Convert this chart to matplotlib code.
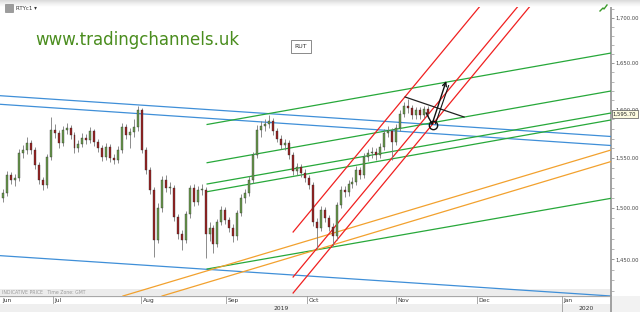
import numpy as np
import matplotlib
matplotlib.use('Agg')
import matplotlib.pyplot as plt
import matplotlib.transforms as mtransforms
from matplotlib.patches import Rectangle
from matplotlib.lines import Line2D
from matplotlib.ticker import FixedLocator, FuncFormatter, NullFormatter

# daily bars (index = trading day)
closes = [1515, 1533, 1528, 1530, 1555, 1558, 1565, 1558, 1543, 1528,
          1523, 1551, 1579, 1576, 1565, 1579, 1581, 1574, 1560, 1564,
          1571, 1568, 1578, 1566, 1560, 1551, 1561, 1550, 1548, 1558,
          1582, 1574, 1577, 1582, 1600, 1558, 1538, 1518, 1469, 1500,
          1528, 1520, 1520, 1491, 1474, 1469, 1494, 1520, 1506, 1518,
          1518, 1474, 1480, 1465, 1486, 1498, 1488, 1480, 1472, 1495,
          1510, 1515, 1528, 1553, 1579, 1583, 1585, 1588, 1578, 1570,
          1563, 1565, 1553, 1537, 1541, 1535, 1530, 1523, 1486, 1480,
          1498, 1490, 1481, 1472, 1503, 1518, 1516, 1524, 1526, 1538,
          1533, 1551, 1555, 1556, 1553, 1561, 1576, 1578, 1566, 1581,
          1596, 1604, 1602, 1594, 1600, 1594, 1601, 1595.7]
highs = [1519, 1537, 1536, 1534, 1559, 1563, 1572, 1568, 1561, 1546,
         1531, 1554, 1592, 1585, 1579, 1583, 1586, 1584, 1577, 1568,
         1576, 1575, 1582, 1580, 1570, 1563, 1565, 1564, 1554, 1562,
         1586, 1585, 1581, 1590, 1604, 1602, 1561, 1541, 1521, 1505,
         1532, 1533, 1526, 1523, 1494, 1478, 1497, 1523, 1524, 1522,
         1524, 1521, 1486, 1483, 1489, 1502, 1501, 1491, 1484, 1498,
         1514, 1519, 1532, 1556, 1584, 1588, 1590, 1594, 1591, 1581,
         1574, 1569, 1568, 1556, 1545, 1544, 1539, 1533, 1526, 1490,
         1502, 1501, 1493, 1485, 1506, 1522, 1522, 1528, 1531, 1542,
         1541, 1555, 1559, 1561, 1560, 1565, 1580, 1583, 1581, 1585,
         1600, 1608, 1611, 1605, 1603, 1603, 1604, 1604]
lows = [1506, 1512, 1524, 1522, 1527, 1550, 1554, 1554, 1539, 1524,
        1518, 1520, 1548, 1571, 1560, 1562, 1575, 1570, 1555, 1556,
        1561, 1564, 1565, 1562, 1556, 1547, 1548, 1546, 1544, 1545,
        1555, 1570, 1560, 1572, 1578, 1555, 1534, 1514, 1452, 1466,
        1496, 1516, 1514, 1487, 1470, 1459, 1466, 1490, 1502, 1503,
        1513, 1451, 1468, 1456, 1462, 1483, 1484, 1476, 1467, 1469,
        1492, 1505, 1512, 1525, 1550, 1572, 1578, 1581, 1574, 1566,
        1559, 1558, 1549, 1533, 1533, 1531, 1526, 1519, 1482, 1460,
        1477, 1486, 1477, 1463, 1469, 1500, 1511, 1512, 1520, 1523,
        1529, 1530, 1547, 1550, 1548, 1550, 1558, 1572, 1548, 1563,
        1578, 1592, 1597, 1590, 1590, 1590, 1591, 1591]
first_open = 1510
opens = [first_open] + closes[:-1]
last_price = 1595.70

month_labels = ['Jun', 'Jul', 'Aug', 'Sep', 'Oct', 'Nov', 'Dec', 'Jan']
month_pos = [-0.6, 12.6, 34.8, 56.2, 76.6, 99.0, 119.4, 140.8]
year_labels = ['2019', '2020']
price_ticks = [1450, 1500, 1550, 1600, 1650, 1700]

# trend lines: (x0, p0, x1, p1)
blue_lines = [(-0.76, 1614.9, 153.1, 1572.1),
              (-0.76, 1605.8, 153.1, 1562.8),
              (-0.76, 1453.5, 153.1, 1415.4)]
green_lines = [(51.4, 1584.6, 153.1, 1660.9),
               (51.4, 1545.2, 153.1, 1619.9),
               (51.4, 1523.7, 153.1, 1596.6),
               (51.4, 1516.0, 153.1, 1589.3),
               (51.4, 1440.8, 153.1, 1509.4)]
orange_lines = [(30.2, 1415.4, 153.1, 1558.2),
                (40.05, 1415.4, 153.1, 1546.4)]
red_lines = [(73.05, 1476.3, 121.4, 1719.9),
             (73.05, 1433.2, 131.0, 1719.9),
             (73.05, 1418.2, 134.0, 1719.9)]
triangle_line = (101.26, 1613.5, 116.1, 1592.4)
arrow_path_x = [106.55, 108.06]
arrow_path_p = [1596.6, 1585.1]
arrow_tip = (111.6, 1630.6)
circle_pt = (108.3, 1584.4)

W, H = 640, 312
fig = plt.figure(figsize=(6.4, 3.12), dpi=100)
fig.patch.set_facecolor('white')
ax = fig.add_axes([0, 16 / H, 611 / W, 296 / H])
ax.set_yscale('log')
ax.set_xlim(-0.76, 153.1)
ax.set_ylim(1415.4, 1719.9)

for col, group in [('#3f8fd8', blue_lines), ('#27a83a', green_lines),
                   ('#f2a12e', orange_lines), ('#f02020', red_lines)]:
    for x0, p0, x1, p1 in group:
        ax.plot([x0, x1], [p0, p1], color=col, lw=0.9, zorder=3)

# candles
xs = np.arange(len(closes))
o = np.array(opens, dtype=float)
c = np.array(closes, dtype=float)
ax.vlines(xs, lows, highs, color='#7a7a7a', lw=0.6, zorder=4)
up = c >= o
body_lo = np.minimum(o, c)
body_h = np.maximum(np.abs(c - o), 0.8)
ax.bar(xs[up], body_h[up], bottom=body_lo[up], width=0.5,
       color='#6a9a4c', edgecolor='#2a2a2a', linewidth=0.25, zorder=5)
ax.bar(xs[~up], body_h[~up], bottom=body_lo[~up], width=0.5,
       color='#9a2222', edgecolor='#2a2a2a', linewidth=0.25, zorder=5)

# hand drawn annotations
ax.plot([triangle_line[0], triangle_line[2]], [triangle_line[1], triangle_line[3]],
        color='#222222', lw=0.9, zorder=6)
ax.plot(arrow_path_x, arrow_path_p, color='#111111', lw=1.0, zorder=6)
ax.annotate('', xy=arrow_tip, xytext=(arrow_path_x[-1], arrow_path_p[-1]),
            arrowprops=dict(arrowstyle='->', lw=1.0, color='#111111',
                            shrinkA=0, shrinkB=0, mutation_scale=7), zorder=6)
ax.plot([circle_pt[0] + 0.6, arrow_tip[0] + 0.6], [circle_pt[1] + 1, arrow_tip[1] - 5],
        color='#111111', lw=0.8, zorder=6)
ax.plot(*circle_pt, marker='o', ms=6, mfc='none', mec='#111111', mew=1.0, zorder=6)

# bottom strip inside plot
ax.add_patch(Rectangle((0, 0), 1, 7 / 296, transform=ax.transAxes,
                       facecolor='#ececec', edgecolor='none', zorder=1))
ax.text(0.004, 3.5 / 296, 'INDICATIVE PRICE   Time Zone: GMT', transform=ax.transAxes,
        fontsize=3.3, color='#9a9a9a', va='center', ha='left', zorder=2)

# right price axis
for s in ['top', 'left', 'bottom']:
    ax.spines[s].set_visible(False)
ax.spines['right'].set_color('#9a9a9a')
ax.spines['right'].set_linewidth(1.3)
ax.yaxis.tick_right()
ax.yaxis.set_major_locator(FixedLocator(price_ticks))
ax.yaxis.set_minor_locator(FixedLocator(list(range(1420, 1720, 10))))
ax.yaxis.set_major_formatter(FuncFormatter(lambda v, p: f'{v:,.2f}'))
ax.yaxis.set_minor_formatter(NullFormatter())
ax.tick_params(axis='y', which='major', length=2.5, width=0.6, color='#888888',
               labelsize=3.8, pad=0.8, labelcolor='#444444')
ax.tick_params(axis='y', which='minor', length=1.8, width=0.5, color='#999999')
ax.set_xticks([])

blend = mtransforms.blended_transform_factory(ax.transAxes, ax.transData)
ax.text(1.003, last_price, f'{last_price:,.2f}', transform=blend, fontsize=3.8,
        va='center', ha='left', color='#222222', zorder=10, clip_on=False,
        bbox=dict(boxstyle='square,pad=0.25', fc='#fdfbe0', ec='#555555', lw=0.5))

# watermark and labels
ax.text(35 / 611, 1 - 40 / 296, 'www.tradingchannels.uk', transform=ax.transAxes,
        fontsize=12, color='#4a8d1e', va='center', ha='left')
ax.text(301 / 611, 1 - 46.5 / 296, 'RUT', transform=ax.transAxes, fontsize=4.5,
        color='#333333', va='center', ha='center',
        bbox=dict(boxstyle='square,pad=0.6', fc='white', ec='#777777', lw=0.6))

# month row
ax_m = fig.add_axes([0, 8 / H, 611 / W, 8 / H])
ax_m.set_xlim(-0.76, 153.1)
ax_m.set_ylim(0, 1)
ax_m.set_facecolor('white')
for s in ax_m.spines.values():
    s.set_visible(False)
ax_m.set_xticks([])
ax_m.set_yticks([])
ax_m.axhline(1, color='#a8a8a8', lw=1.6)
ax_m.axhline(0, color='#c8c8c8', lw=0.6)
for lab, pos in zip(month_labels, month_pos):
    if pos > 0:
        ax_m.axvline(pos, color='#9a9a9a', lw=0.6)
    ax_m.text(pos + 0.4, 0.45, lab, fontsize=4.3, color='#333333', va='center', ha='left')

# year row
ax_y = fig.add_axes([0, 0, 611 / W, 8 / H])
ax_y.set_xlim(-0.76, 153.1)
ax_y.set_ylim(0, 1)
ax_y.set_facecolor('#efefef')
for s in ax_y.spines.values():
    s.set_visible(False)
ax_y.set_xticks([])
ax_y.set_yticks([])
ax_y.axvline(month_pos[-1], color='#9a9a9a', lw=0.6)
ax_y.text((-0.76 + month_pos[-1]) / 2, 0.5, year_labels[0], fontsize=4.3,
          color='#333333', va='center', ha='center')
ax_y.text((month_pos[-1] + 153.1) / 2, 0.5, year_labels[1], fontsize=4.3,
          color='#333333', va='center', ha='center')

# right lower corner and axis line continuation
fig.add_artist(Rectangle((611 / W, 0), 29 / W, 16 / H, transform=fig.transFigure,
                         facecolor='#f2f2f2', edgecolor='none'))
fig.add_artist(Line2D([611 / W, 611 / W], [0, 16 / H], transform=fig.transFigure,
                      color='#9a9a9a', lw=1.3))

# header gradient
ax_t = fig.add_axes([0, 1 - 7 / H, 1, 7 / H])
ax_t.imshow(np.linspace(0.25, 0.0, 40).reshape(-1, 1), aspect='auto', cmap='Greys',
            vmin=0, vmax=1, extent=[0, 1, 0, 1])
ax_t.axis('off')

fig.add_artist(Rectangle((5 / W, 1 - 12 / H), 8 / W, 8 / H, transform=fig.transFigure,
                         facecolor='#9c9c9c', edgecolor='#777777', lw=0.4))
fig.text(16 / W, 1 - 8 / H, 'RTYc1 \u25be', fontsize=4, color='#333333', va='center', ha='left')
fig.add_artist(Line2D([600 / W, 603 / W, 604 / W, 607 / W], [1 - 11 / H, 1 - 8 / H, 1 - 9 / H, 1 - 5 / H],
                      transform=fig.transFigure, color='#3a9a2a', lw=1.0))

fig.savefig('out.png', dpi=100)
